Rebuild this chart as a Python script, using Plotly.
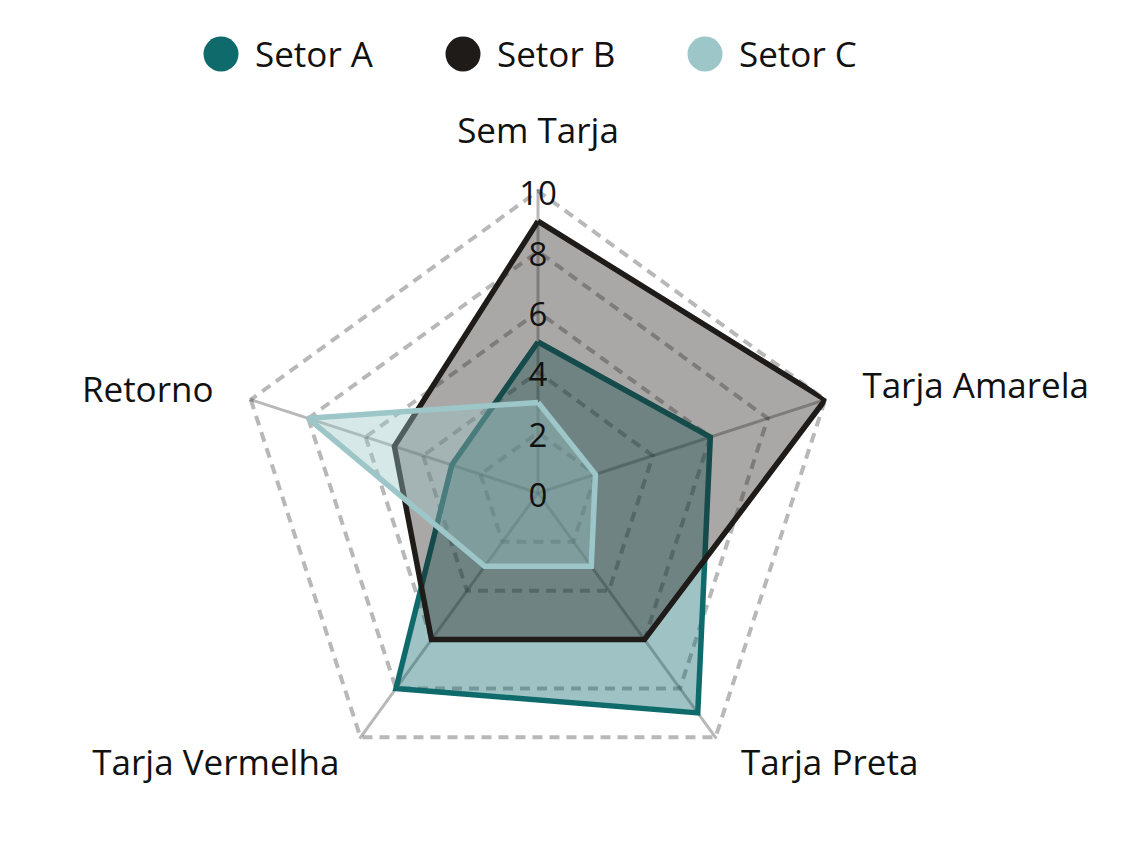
import plotly.graph_objects as go

categories = ["Sem Tarja", "Tarja Amarela", "Tarja Preta", "Tarja Vermelha", "Retorno"]
series_names = ["Setor A", "Setor B", "Setor C"]
setor_a = [5, 6, 9, 8, 3]
setor_b = [9, 10, 6, 6, 5]
setor_c = [3, 2, 3, 3, 8]
radial_ticks = [0, 2, 4, 6, 8, 10]
r_max = 10.05

# placement of the category labels (outside the outer ring)
label_r = [11.0, 11.12, 11.19, 11.19, 10.72]
label_pos = ["top center", "middle right", "middle right", "middle left", "middle left"]
label_pad = [12.8, 6.4, 5.4, 0, 25]

colors = ["#0f6a6b", "#1f1b18", "#9cc6c8"]
fills = ["rgba(15,106,107,0.4)", "rgba(31,27,24,0.38)", "rgba(156,198,200,0.4)"]
FONT = "Open Sans"
TXT = "#111111"
GRID = "rgba(0,0,0,0.28)"

W, H = 1145, 841
cx, cy = 538, 493
PX = 30.2                      # pixels per radial unit
R1 = PX * r_max                # main polar radius
R2 = 346                       # overlay polar radius (category text layer)
R3 = 330                       # overlay polar radius (radial tick text layer)
cy3 = cy + 6                   # tick text sits slightly below its tick


def dom(r, ccy):
    return dict(x=[(cx - r) / W, (cx + r) / W], y=[1 - (ccy + r) / H, 1 - (ccy - r) / H])


fig = go.Figure()
for name, vals, col, fc in zip(series_names, [setor_a, setor_b, setor_c], colors, fills):
    fig.add_trace(go.Scatterpolar(
        r=vals + vals[:1],
        theta=categories + categories[:1],
        name=name,
        mode="lines",
        fill="toself",
        fillcolor=fc,
        line=dict(color=col, width=5.5),
        showlegend=False,
        subplot="polar",
    ))

# category labels (text layer)
fig.add_trace(go.Scatterpolar(
    r=label_r,
    theta=categories,
    mode="markers+text",
    text=categories,
    textposition=label_pos,
    marker=dict(size=label_pad, color="rgba(0,0,0,0)", line=dict(width=0)),
    textfont=dict(family=FONT, size=35, color=TXT),
    cliponaxis=False,
    hoverinfo="skip",
    showlegend=False,
    subplot="polar2",
))

# radial tick labels centred on the vertical axis (text layer)
fig.add_trace(go.Scatterpolar(
    r=radial_ticks,
    theta=[categories[0]] * len(radial_ticks),
    mode="text",
    text=[str(v) for v in radial_ticks],
    textposition="middle center",
    textfont=dict(family=FONT, size=33, color=TXT),
    cliponaxis=False,
    hoverinfo="skip",
    showlegend=False,
    subplot="polar3",
))

hidden_ang = dict(direction="clockwise", rotation=90, categoryorder="array",
                  categoryarray=categories, showgrid=False, showline=False,
                  showticklabels=False, ticks="")

fig.update_layout(
    width=W, height=H,
    margin=dict(l=0, r=0, t=0, b=0),
    paper_bgcolor="white",
    plot_bgcolor="white",
    font=dict(family=FONT, size=35, color=TXT),
    showlegend=False,
    polar=dict(
        domain=dom(R1, cy),
        bgcolor="rgba(0,0,0,0)",
        gridshape="linear",
        radialaxis=dict(
            range=[0, r_max],
            tickvals=radial_ticks,
            showticklabels=False,
            showline=False,
            ticks="",
            gridcolor=GRID,
            gridwidth=3.5,
            griddash="10px,7px",
            layer="below traces",
        ),
        angularaxis=dict(
            direction="clockwise",
            rotation=90,
            categoryorder="array",
            categoryarray=categories,
            showline=False,
            ticks="",
            showticklabels=False,
            gridcolor=GRID,
            gridwidth=3,
            layer="below traces",
        ),
    ),
    polar2=dict(
        domain=dom(R2, cy),
        bgcolor="rgba(0,0,0,0)",
        radialaxis=dict(range=[0, R2 / PX], visible=False, showgrid=False),
        angularaxis=hidden_ang,
    ),
    polar3=dict(
        domain=dom(R3, cy3),
        bgcolor="rgba(0,0,0,0)",
        radialaxis=dict(range=[0, R3 / PX], visible=False, showgrid=False),
        angularaxis=hidden_ang,
    ),
)

# custom legend (large circular markers)
legend_x = [221, 463, 705]
legend_y = 54
rad = 17.5
for name, col, lx in zip(series_names, colors, legend_x):
    fig.add_shape(
        type="circle", xref="paper", yref="paper",
        x0=(lx - rad) / W, x1=(lx + rad) / W,
        y0=1 - (legend_y + rad) / H, y1=1 - (legend_y - rad) / H,
        fillcolor=col, line=dict(width=0),
    )
    fig.add_annotation(
        x=(lx + 32) / W, y=1 - legend_y / H, xref="paper", yref="paper",
        text=name, showarrow=False, xanchor="left", yanchor="middle",
        font=dict(family=FONT, size=35, color=TXT),
    )

fig.write_html("out.html")
